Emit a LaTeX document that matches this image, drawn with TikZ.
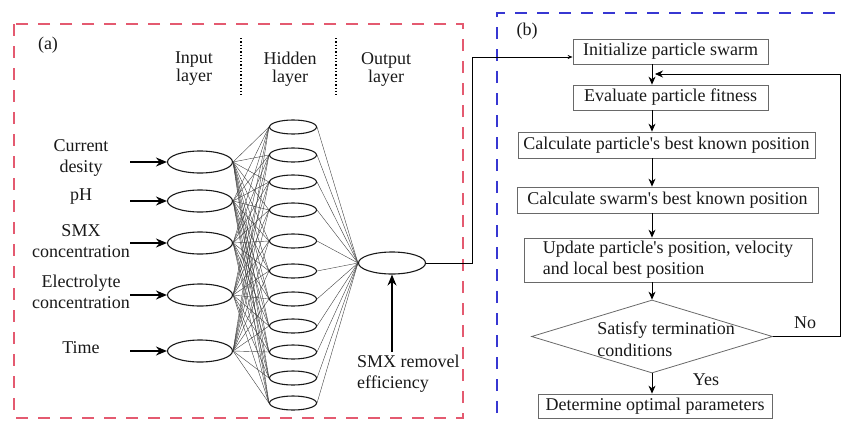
\documentclass[tikz,border=0pt]{standalone}
\usepackage{fontspec}
\setmainfont{Liberation Serif}
\newfontfamily\tnr{Liberation Serif}
\usetikzlibrary{shapes.geometric,arrows.meta}
\definecolor{redd}{RGB}{228,90,112}
\definecolor{blued}{RGB}{55,55,210}
\definecolor{boxgray}{RGB}{105,105,105}
\definecolor{txt}{RGB}{25,25,25}
\begin{document}
\begin{tikzpicture}[x=1pt,y=-1pt,
  every node/.style={font=\tnr\fontsize{18}{21}\selectfont, text=txt},
  neuron/.style={draw=black!90, ellipse, line width=1.1pt, inner sep=0pt},
  inneuron/.style={neuron, minimum width=65pt, minimum height=22pt},
  hidneuron/.style={neuron, minimum width=47pt, minimum height=14pt},
  conn/.style={line width=0.4pt, draw=black!75},
  inarrow/.style={-{Stealth[length=11pt,width=9pt]}, line width=1.3pt},
  flowbox/.style={draw=boxgray, line width=0.8pt, inner sep=0pt, align=center},
  flowarrow/.style={-{Stealth[length=8pt,width=7pt]}, line width=0.8pt},
  lbl/.style={align=center, inner sep=0pt},
]
\useasboundingbox (0,0) rectangle (842,423);

% frames
\draw[redd, line width=1.5pt, dash pattern=on 12pt off 10pt] (14,24) rectangle (463,418);
\draw[blued, line width=1.5pt, dash pattern=on 12pt off 10pt] (497,413) -- (497,13) -- (842,13);

\node[lbl] (la) at (48,45) {(a)};
\node[lbl] (lb) at (527,31) {(b)};

% layer titles
\node[lbl, font=\tnr\fontsize{18}{18}\selectfont] (tin) at (194,69) {Input\\layer};
\node[lbl, font=\tnr\fontsize{18}{18}\selectfont] (thid) at (290,69) {Hidden\\layer};
\node[lbl, font=\tnr\fontsize{18}{18}\selectfont] (tout) at (386,69) {Output\\layer};
\draw[dotted, line width=1.3pt] (241,38) -- (241,97);
\draw[dotted, line width=1.3pt] (336,38) -- (336,97);

% input neurons
\foreach \i/\y in {1/162, 2/201, 3/243, 4/295, 5/351}{
  \node[inneuron] (in\i) at (200,\y) {};
  \coordinate (ia\i) at (130,\y);
  \draw[inarrow] (ia\i) -- (in\i.west);
}
% hidden neurons
\foreach \j/\y in {1/127, 2/155, 3/182, 4/210, 5/241, 6/271, 7/299, 8/326, 9/352, 10/378, 11/403}{
  \node[hidneuron] (h\j) at (293,\y) {};
}
% output neuron
\node[inneuron, minimum width=67pt] (out) at (392,263) {};

\foreach \i in {1,...,5}{
  \foreach \j in {1,...,11}{
    \draw[conn] (in\i.east) -- (h\j.west);
  }
}
\foreach \j in {1,...,11}{
  \draw[conn] (h\j.east) -- (out.west);
}

% input labels
\node[lbl] (l1) at (81,158) {Current\\desity};
\node[lbl] (l2) at (81,197) {pH};
\node[lbl] (l3) at (81,241) {SMX\\concentration};
\node[lbl] (l4) at (81,292) {Electrolyte\\concentration};
\node[lbl] (l5) at (81,348) {Time};

% output target
\coordinate (sa) at (392,352);
\draw[inarrow] (sa) -- (out.south);
\node[lbl, align=left, anchor=west] (smx) at (357,374) {SMX removel\\efficiency};

% flowchart
\node[flowbox, minimum width=195pt, minimum height=25pt] (init) at (670.5,51.5) {Initialize particle swarm};
\node[flowbox, minimum width=195pt, minimum height=25pt] (eval) at (670.5,97.5) {Evaluate particle fitness};
\node[flowbox, minimum width=297pt, minimum height=26pt] (cpart) at (666.5,145) {Calculate particle's best known position};
\node[flowbox, minimum width=301pt, minimum height=26pt] (cswarm) at (667.5,200) {Calculate swarm's best known position};
\node[flowbox, align=left, minimum width=288pt, minimum height=44pt] (upd) at (668,260) {Update particle's position, velocity\\and local best position};
\node[draw=boxgray, line width=0.8pt, diamond, inner sep=0pt, minimum width=241pt, minimum height=73pt] (dia) at (652,336.5) {};
\node[lbl, align=left, font=\tnr\fontsize{18}{22}\selectfont] (dtext) at (666,339) {Satisfy termination\\conditions};
\node[flowbox, minimum width=234pt, minimum height=24pt] (det) at (655,406) {Determine optimal parameters};

\draw[flowarrow] (init.south -| dia.north) -- (eval.north -| dia.north);
\draw[flowarrow] (eval.south -| dia.north) -- (cpart.north -| dia.north);
\draw[flowarrow] (cpart.south -| dia.north) -- (cswarm.north -| dia.north);
\draw[flowarrow] (cswarm.south -| dia.north) -- (upd.north -| dia.north);
\draw[flowarrow] (upd.south -| dia.north) -- (dia.north);
\draw[flowarrow] (dia.south) -- (det.north -| dia.south);

\coordinate (lx) at (840,74);
\coordinate (le) at (655,74);
\draw[flowarrow] (dia.east) -| (lx) -- (le);
\node[lbl] (no) at (805,323) {No};
\node[lbl] (yes) at (706,380) {Yes};

% link between panels
\coordinate (ox) at (472,57);
\draw[-{Stealth[length=5pt,width=4pt]}, line width=0.8pt] (out.east) -| (ox) -- (init.west |- ox);
\end{tikzpicture}
\end{document}
